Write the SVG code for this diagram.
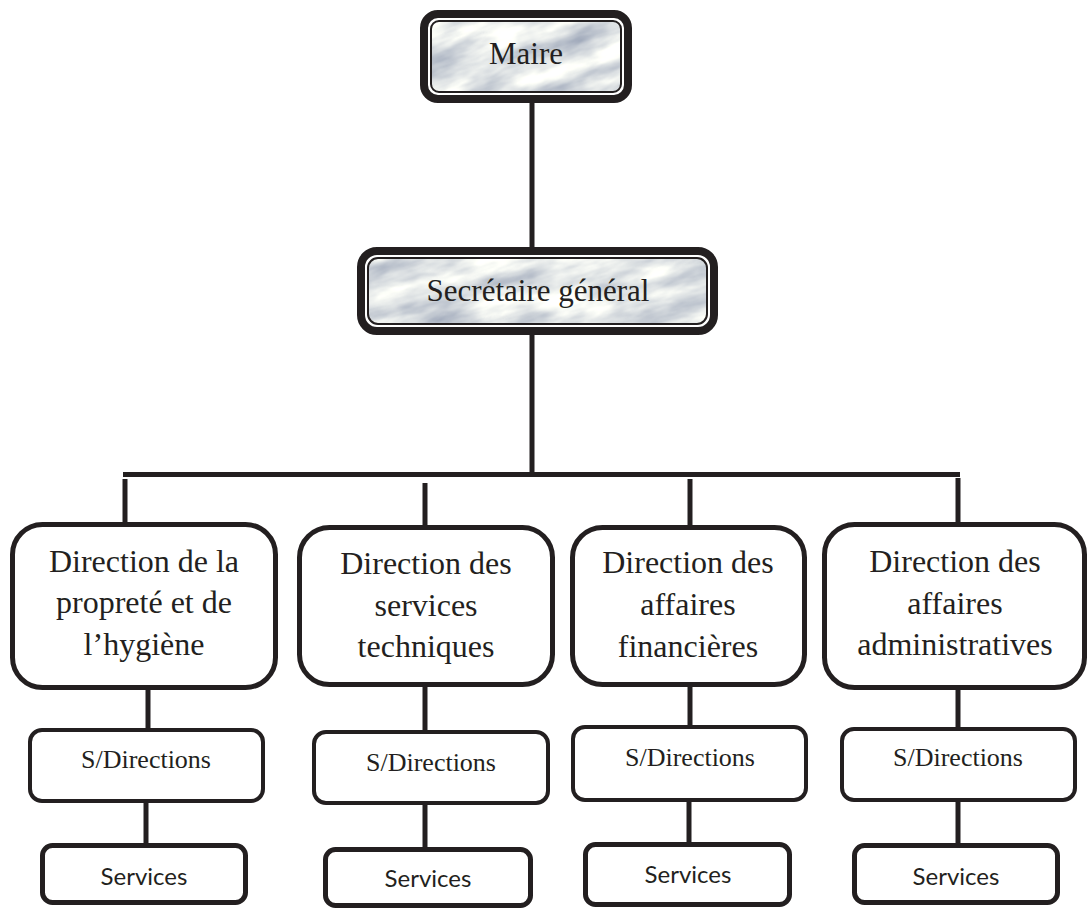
<svg xmlns="http://www.w3.org/2000/svg" width="1088" height="911" viewBox="0 0 1088 911">
<style>
.conn{stroke:#231f20;stroke-width:5;fill:none}
.dir{fill:#fff;stroke:#231f20;stroke-width:5}
.sdir{fill:#fff;stroke:#231f20;stroke-width:4}
.svc{fill:#fff;stroke:#231f20;stroke-width:5}
.outer{fill:#fff;stroke:#231f20;stroke-width:8}
.inner{fill:none;stroke:#231f20;stroke-width:2}
text{fill:#231f20;text-anchor:middle}
.tnr{font-family:'Liberation Serif','DejaVu Serif',serif}
.big{font-size:32px}
.head{font-size:31px}
.sd{font-size:26px}
.sv{font-family:Lato,'Liberation Sans',sans-serif;font-size:24px}
</style>
<defs>
<filter id="marble" x="0" y="0" width="1" height="1" color-interpolation-filters="sRGB">
<feTurbulence type="fractalNoise" baseFrequency="0.015 0.045" numOctaves="4" seed="11" result="n"/>
<feColorMatrix in="n" type="matrix" values="0.6 0 0 0 0.58  0.55 0 0 0 0.62  0.4 0 0 0 0.70  0 0 0 0 1" result="c"/>
<feComposite in="c" in2="SourceGraphic" operator="in"/>
</filter>
<clipPath id="clipMaire"><rect x="431" y="21" width="190" height="71" rx="8"/></clipPath>
<clipPath id="clipSec"><rect x="368" y="258" width="339" height="66" rx="10"/></clipPath>
</defs>
<rect width="1088" height="911" fill="#fff"/>

<g id="connectors">
<line class="conn" x1="532" y1="103" x2="532" y2="248"/>
<line class="conn" x1="532" y1="335" x2="532" y2="476"/>
<line class="conn" x1="123" y1="474.5" x2="960" y2="474.5"/>
<line class="conn" x1="125" y1="479" x2="125" y2="523"/>
<line class="conn" x1="425" y1="483" x2="425" y2="526"/>
<line class="conn" x1="690" y1="479" x2="690" y2="526"/>
<line class="conn" x1="958" y1="478" x2="958" y2="523"/>
<line class="conn" x1="148" y1="689" x2="148" y2="729"/>
<line class="conn" x1="425" y1="686" x2="425" y2="731"/>
<line class="conn" x1="690" y1="686" x2="690" y2="726"/>
<line class="conn" x1="958" y1="689" x2="958" y2="728"/>
<line class="conn" x1="146" y1="802" x2="146" y2="844"/>
<line class="conn" x1="425" y1="804" x2="425" y2="848"/>
<line class="conn" x1="689" y1="801" x2="689" y2="843"/>
<line class="conn" x1="958" y1="801" x2="958" y2="844"/>
</g>

<g id="maire">
<rect class="outer" x="424" y="14" width="204" height="85" rx="14"/>
<g clip-path="url(#clipMaire)"><rect x="380" y="-40" width="290" height="190" transform="rotate(-18 526 56)" filter="url(#marble)" fill="#000"/></g>
<rect class="inner" x="431" y="21" width="190" height="71" rx="8"/>
<text class="tnr head" x="526" y="64">Maire</text>
</g>

<g id="secretaire">
<rect class="outer" x="361" y="251" width="353" height="80" rx="16"/>
<g clip-path="url(#clipSec)"><rect x="320" y="190" width="440" height="200" transform="rotate(-15 538 291)" filter="url(#marble)" fill="#000"/></g>
<rect class="inner" x="368" y="258" width="339" height="66" rx="10"/>
<text class="tnr head" x="538" y="301">Secrétaire général</text>
</g>

<g id="dir1">
<rect class="dir" x="12.5" y="524.5" width="263" height="163" rx="30"/>
<text class="tnr big" x="144" y="572">Direction de la</text>
<text class="tnr big" x="144" y="613">propreté et de</text>
<text class="tnr big" x="144" y="655">l’hygiène</text>
</g>
<g id="dir2">
<rect class="dir" x="299.5" y="527.5" width="253" height="157" rx="30"/>
<text class="tnr big" x="426" y="574">Direction des</text>
<text class="tnr big" x="426" y="616">services</text>
<text class="tnr big" x="426" y="657">techniques</text>
</g>
<g id="dir3">
<rect class="dir" x="572.5" y="527.5" width="232" height="157" rx="30"/>
<text class="tnr big" x="688" y="573">Direction des</text>
<text class="tnr big" x="688" y="615">affaires</text>
<text class="tnr big" x="688" y="657">financières</text>
</g>
<g id="dir4">
<rect class="dir" x="824.5" y="524.5" width="260" height="163" rx="30"/>
<text class="tnr big" x="955" y="572">Direction des</text>
<text class="tnr big" x="955" y="614">affaires</text>
<text class="tnr big" x="955" y="655">administratives</text>
</g>

<g id="sdir1">
<rect class="sdir" x="30" y="730" width="233" height="71" rx="12"/>
<text class="tnr sd" x="146" y="768">S/Directions</text>
</g>
<g id="sdir2">
<rect class="sdir" x="314" y="732" width="234" height="71" rx="12"/>
<text class="tnr sd" x="431" y="771">S/Directions</text>
</g>
<g id="sdir3">
<rect class="sdir" x="573" y="727" width="233" height="73" rx="12"/>
<text class="tnr sd" x="690" y="766">S/Directions</text>
</g>
<g id="sdir4">
<rect class="sdir" x="842" y="729" width="233" height="71" rx="12"/>
<text class="tnr sd" x="958" y="766">S/Directions</text>
</g>

<g id="svc1">
<rect class="svc" x="42.5" y="845.5" width="203" height="57" rx="10"/>
<text class="sv" x="144" y="885">Services</text>
</g>
<g id="svc2">
<rect class="svc" x="325.5" y="849.5" width="205" height="56" rx="10"/>
<text class="sv" x="428" y="887">Services</text>
</g>
<g id="svc3">
<rect class="svc" x="585.5" y="844.5" width="204" height="60" rx="10"/>
<text class="sv" x="688" y="883">Services</text>
</g>
<g id="svc4">
<rect class="svc" x="854.5" y="845.5" width="203" height="57" rx="10"/>
<text class="sv" x="956" y="885">Services</text>
</g>
</svg>
